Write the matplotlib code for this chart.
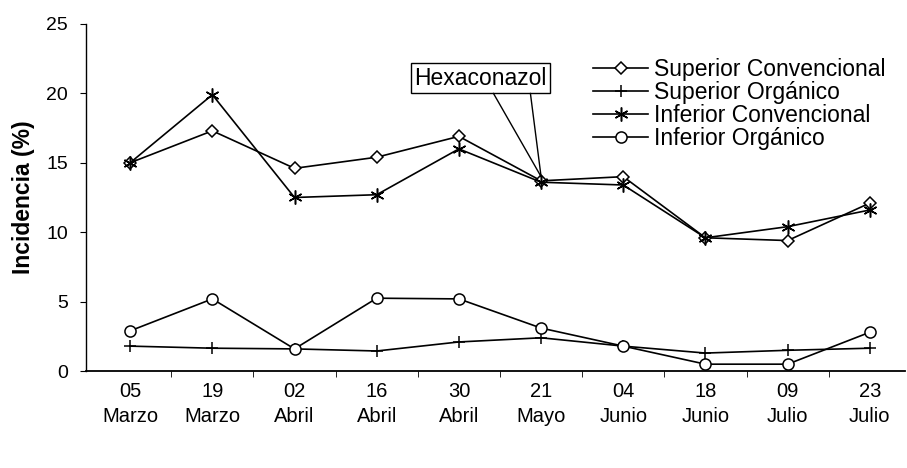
import matplotlib
matplotlib.use("Agg")
import matplotlib.pyplot as plt
import numpy as np

plt.rcParams['font.family'] = ['Liberation Sans', 'DejaVu Sans']

fechas = ["05\nMarzo", "19\nMarzo", "02\nAbril", "16\nAbril", "30\nAbril",
          "21\nMayo", "04\nJunio", "18\nJunio", "09\nJulio", "23\nJulio"]
sup_conv = [15.0, 17.3, 14.6, 15.4, 16.9, 13.7, 14.0, 9.6, 9.4, 12.1]
sup_org = [1.8, 1.65, 1.6, 1.45, 2.1, 2.4, 1.8, 1.3, 1.5, 1.65]
inf_conv = [15.0, 19.9, 12.5, 12.7, 16.0, 13.6, 13.4, 9.6, 10.4, 11.6]
inf_org = [2.9, 5.2, 1.6, 5.25, 5.2, 3.1, 1.8, 0.5, 0.5, 2.8]

fig = plt.figure(figsize=(9.07, 4.68), dpi=100)
ax = fig.add_axes([0.095, 0.207, 0.903, 0.742])
x = np.arange(len(fechas))

common = dict(color='black', lw=1.2, markeredgecolor='black', markerfacecolor='white',
              markeredgewidth=1.1)
ax.plot(x, sup_conv, marker='D', ms=6, label='Superior Convencional', **common)
ax.plot(x, sup_org, marker='+', ms=9, label='Superior Orgánico', **common)
ax.plot(x, inf_conv, marker=(6, 2, 0), ms=10, label='Inferior Convencional', **common)
ax.plot(x, inf_org, marker='o', ms=8, label='Inferior Orgánico', **common)

ax.set_xlim(-0.535, 9.43)
ax.set_ylim(0, 25)
ax.set_yticks([0, 5, 10, 15, 20, 25])
ax.tick_params(axis='y', labelsize=14, length=4, direction='out', pad=9)
ax.set_xticks(x)
ax.set_xticklabels(fechas, fontsize=14.5, linespacing=1.4)
ax.tick_params(axis='x', length=0, pad=8)
ax.set_xticks(np.arange(0.5, 9.5, 1), minor=True)
ax.tick_params(axis='x', which='minor', length=4, direction='out')
for s in ['top', 'right']:
    ax.spines[s].set_visible(False)
ax.spines['left'].set_linewidth(1.0)
ax.spines['bottom'].set_linewidth(1.3)
ax.set_ylabel('Incidencia (%)', fontsize=16.5, fontweight='bold', labelpad=8)

# Annotation
ax.text(4.26, 21.1, 'Hexaconazol', fontsize=16.5, ha='center', va='center',
        bbox=dict(boxstyle='square,pad=0.15', fc='white', ec='black', lw=1.0))
for xs in [4.42, 4.87]:
    ax.annotate('', xy=(5.0, 14.0), xytext=(xs, 20.0),
                arrowprops=dict(arrowstyle='-', color='black', lw=1.0,
                                shrinkA=0, shrinkB=0))

leg = ax.legend(loc='upper left', bbox_to_anchor=(0.654, 0.876), bbox_transform=fig.transFigure,
                frameon=False, fontsize=16.5, handlelength=2.4, handletextpad=0.25,
                labelspacing=0.0, borderaxespad=0, borderpad=0)

fig.savefig('out.png', dpi=100)
